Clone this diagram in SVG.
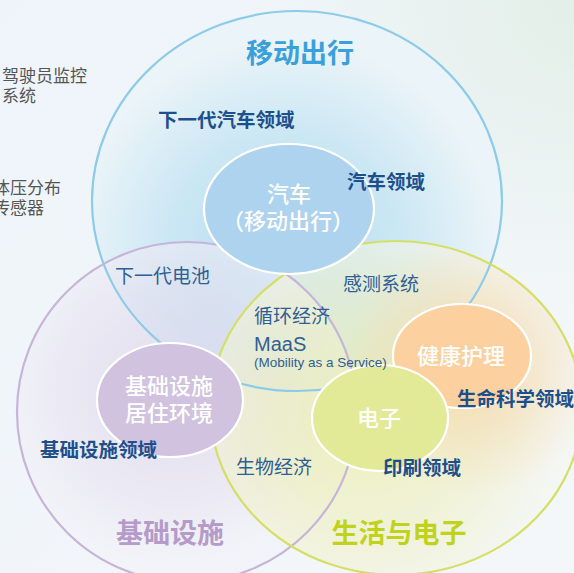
<svg xmlns="http://www.w3.org/2000/svg" width="574" height="573" viewBox="0 0 574 573">
  <defs>
    <linearGradient id="bg" x1="0" y1="0" x2="1" y2="1">
      <stop offset="0" stop-color="#eef4fa"/>
      <stop offset="1" stop-color="#f4f7f9"/>
    </linearGradient>
    <radialGradient id="bgTR" cx="574" cy="0" r="300" gradientUnits="userSpaceOnUse">
      <stop offset="0" stop-color="#e3efe8"/>
      <stop offset="1" stop-color="#e3efe8" stop-opacity="0"/>
    </radialGradient>
    <radialGradient id="gBlue" cx="285" cy="250" r="210" gradientUnits="userSpaceOnUse">
      <stop offset="0" stop-color="#b4dcf0"/>
      <stop offset="0.55" stop-color="#cbe7f4"/>
      <stop offset="1" stop-color="#ebf4f8"/>
    </radialGradient>
    <radialGradient id="gPurple" cx="175" cy="390" r="175" gradientUnits="userSpaceOnUse">
      <stop offset="0" stop-color="#d9cde8"/>
      <stop offset="0.6" stop-color="#e6e0ef"/>
      <stop offset="1" stop-color="#f3f2f8"/>
    </radialGradient>
    <radialGradient id="gGreen" cx="360" cy="420" r="200" gradientUnits="userSpaceOnUse">
      <stop offset="0" stop-color="#e9ed96"/>
      <stop offset="0.6" stop-color="#eff0c6"/>
      <stop offset="1" stop-color="#f4f6ee"/>
    </radialGradient>
    <radialGradient id="gOrange" cx="470" cy="365" r="130" gradientUnits="userSpaceOnUse">
      <stop offset="0" stop-color="#f6d5a6" stop-opacity="0.85"/>
      <stop offset="1" stop-color="#f6d5a6" stop-opacity="0"/>
    </radialGradient>
    <clipPath id="clipGreen">
      <ellipse cx="396" cy="408" rx="186" ry="167"/>
    </clipPath>
    <style>
      .cjk { font-family: "Noto Sans CJK SC", "Noto Sans", sans-serif; }
      .lat { font-family: "Liberation Sans", Arial, sans-serif; }
      .bold { font-weight: 700; fill: #1d4f8c; font-size: 19.5px; }
      .reg { font-weight: 400; fill: #2f5f94; font-size: 19px; }
      .white { font-weight: 500; fill: #ffffff; font-size: 22px; }
      .grey { font-weight: 400; fill: #555555; font-size: 17px; }
      .big { font-weight: 700; font-size: 27px; }
      .inner { stroke: #ffffff; stroke-width: 2.2; }
      .ring { fill: none; stroke-width: 2.2; }
    </style>
  </defs>

  <rect x="0" y="0" width="574" height="573" fill="url(#bg)"/>
  <rect x="0" y="0" width="574" height="573" fill="url(#bgTR)"/>

  <!-- area fills -->
  <g id="area-fills">
    <ellipse cx="297" cy="201" rx="205" ry="190" fill="url(#gBlue)"/>
    <circle cx="187" cy="412" r="170" fill="url(#gPurple)" opacity="0.6"/>
    <ellipse cx="396" cy="408" rx="186" ry="167" fill="url(#gGreen)" opacity="0.62"/>
    <circle cx="470" cy="365" r="135" fill="url(#gOrange)" clip-path="url(#clipGreen)"/>
  </g>

  <!-- outer rings -->
  <g id="mobility">
    <ellipse class="ring" cx="297" cy="201" rx="205" ry="190" stroke="#8ccbe9"/>
    <text class="cjk big" x="300" y="63" text-anchor="middle" fill="#3aa0dc">移动出行</text>
  </g>
  <g id="infrastructure">
    <circle class="ring" cx="187" cy="412" r="170" stroke="#c6b4d9"/>
    <text class="cjk big" x="170" y="543" text-anchor="middle" fill="#b49bc9">基础设施</text>
  </g>
  <g id="life-electronics">
    <ellipse class="ring" cx="396" cy="408" rx="186" ry="167" stroke="#d5df66"/>
    <text class="cjk big" x="399" y="543" text-anchor="middle" fill="#bfd31c">生活与电子</text>
  </g>

  <!-- inner nodes -->
  <g id="car">
    <ellipse class="inner" cx="289" cy="209" rx="85" ry="65" fill="#aed3ee"/>
    <text class="cjk white" x="289" y="202" text-anchor="middle">汽车</text>
    <text class="cjk white" x="288" y="229" text-anchor="middle">（移动出行）</text>
  </g>
  <g id="housing">
    <ellipse class="inner" cx="170" cy="400" rx="73" ry="57" fill="#d1c2e0"/>
    <text class="cjk white" x="169" y="394" text-anchor="middle">基础设施</text>
    <text class="cjk white" x="169" y="421" text-anchor="middle">居住环境</text>
  </g>
  <g id="healthcare">
    <ellipse class="inner" cx="462" cy="356" rx="69" ry="52" fill="#fcd19f"/>
    <text class="cjk white" x="461" y="364" text-anchor="middle">健康护理</text>
  </g>
  <g id="electronics">
    <ellipse class="inner" cx="380" cy="418" rx="68" ry="53" fill="#e2ea98"/>
    <text class="cjk white" x="379" y="426" text-anchor="middle">电子</text>
  </g>

  <!-- domain labels -->
  <g id="labels">
    <text class="cjk bold" x="158" y="127">下一代汽车领域</text>
    <text class="cjk bold" x="347" y="189">汽车领域</text>
    <text class="cjk bold" x="457" y="406">生命科学领域</text>
    <text class="cjk bold" x="40" y="457">基础设施领域</text>
    <text class="cjk bold" x="383" y="475">印刷领域</text>

    <text class="cjk reg" x="115" y="283">下一代电池</text>
    <text class="cjk reg" x="343" y="291">感测系统</text>
    <text class="cjk reg" x="254" y="323">循环经济</text>
    <text class="lat" x="254" y="351" font-size="20" fill="#2f5f94">MaaS</text>
    <text class="lat" x="254" y="367" font-size="13.5" fill="#2f5f94">(Mobility as a Service)</text>
    <text class="cjk reg" x="236" y="474">生物经济</text>
  </g>

  <!-- side notes -->
  <g id="side-notes">
    <text class="cjk grey" x="2" y="82">驾驶员监控</text>
    <text class="cjk grey" x="2" y="102">系统</text>
    <text class="cjk grey" x="-7" y="194">体压分布</text>
    <text class="cjk grey" x="-7" y="214">传感器</text>
  </g>
</svg>
